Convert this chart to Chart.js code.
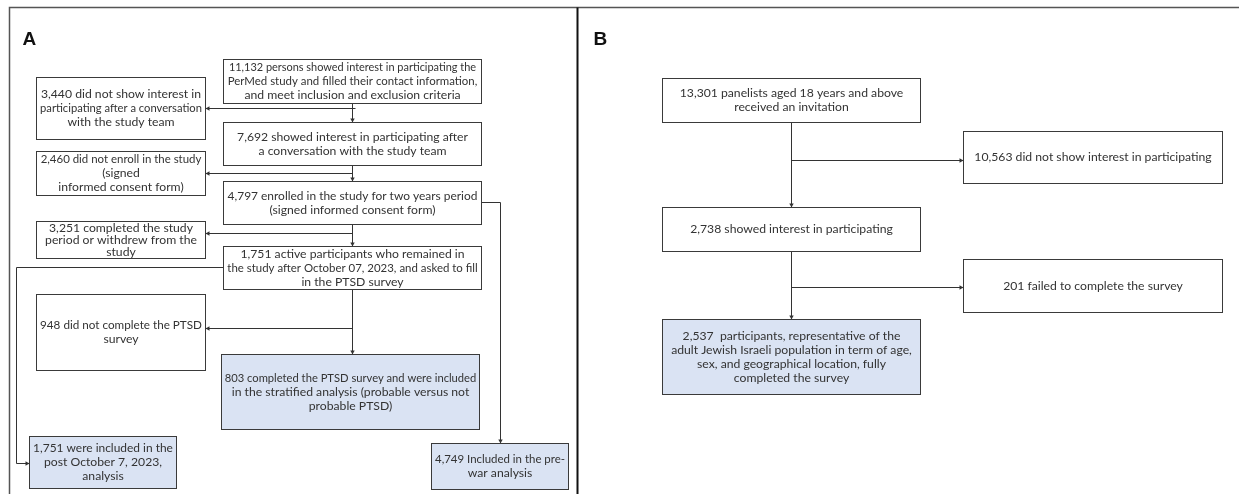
<!DOCTYPE html>
<html>
<head>
<meta charset="utf-8">
<script src="https://cdn.jsdelivr.net/npm/chart.js@4"></script>
<style>
  html, body { margin: 0; padding: 0; background: #fff; }
  canvas { display: block; }
</style>
</head>
<body>
<canvas id="flow" width="1239" height="494"></canvas>
<script>
// participant counts per box (panel A, then panel B)
const countsA = [11132, 3440, 7692, 2460, 4797, 3251, 1751, 948, 803, 1751, 4749];
const countsB = [13301, 10563, 2738, 201, 2537];

// box texts, count is put in front of the first line
const textsA = [
  ["persons showed interest in participating the", "PerMed study and filled their contact information,", "and meet inclusion and exclusion criteria"],
  ["did not show interest in", "participating after a conversation", "with the study team"],
  ["showed interest in participating after", "a conversation with the study team"],
  ["did not enroll in the study", "(signed", "informed consent form)"],
  ["enrolled in the study for two years period", "(signed informed consent form)"],
  ["completed the study", "period or withdrew from the", "study"],
  ["active participants who remained in", "the study after October 07, 2023, and asked to fill", "in the PTSD survey"],
  ["did not complete the PTSD", "survey"],
  ["completed the PTSD survey and were included", "in the stratified analysis (probable versus not", "probable PTSD)"],
  ["were included in the", "post October 7, 2023,", "analysis"],
  ["Included in the pre-", "war analysis"]
];
const textsB = [
  ["panelists aged 18 years and above", "received an invitation"],
  ["did not show interest in participating"],
  ["showed interest in participating"],
  ["failed to complete the survey"],
  [" participants, representative of the", "adult Jewish Israeli population in term of age,", "sex, and geographical location, fully", "completed the survey"]
];
// final (analysed) boxes are shaded
const finalA = [8, 9, 10];
const finalB = [4];
const panelLabels = ["A", "B"];

// layout, in axis units (x0, x1, y0, y1)
const boxesA = [
  [223, 481, 59, 103], [36, 205, 77, 139], [223, 481, 122, 165], [36, 205, 151, 195],
  [223, 481, 181, 224], [36, 205, 221, 258], [223, 481, 246, 289], [36, 205, 294, 370],
  [221, 479, 354, 429], [29, 176, 436, 488], [431, 568, 443, 489]
];
const boxesB = [
  [662, 920, 78, 122], [963, 1222, 131, 183], [662, 920, 207, 251],
  [963, 1222, 259, 312], [662, 920, 319, 394]
];
// connectors: polyline points, arrow at the last point when flagged
const linksA = [
  [[[352, 103], [352, 122]], true], [[[355, 108], [205, 108]], true],
  [[[352, 165], [352, 181]], true], [[[352, 173], [205, 173]], true],
  [[[352, 224], [352, 246]], true], [[[352, 233], [205, 233]], true],
  [[[479, 202], [500, 202], [500, 443]], true],
  [[[223, 267], [16, 267], [16, 463], [29, 463]], true],
  [[[352, 289], [352, 354]], true], [[[352, 328], [205, 328]], true]
];
const linksB = [
  [[[791, 122], [791, 207]], true], [[[791, 160], [963, 160]], true],
  [[[791, 251], [791, 319]], true], [[[791, 287], [963, 287]], true]
];

const fmt = n => n.toLocaleString('en-US');

const flowPlugin = {
  id: 'flow',
  afterDraw(chart) {
    const ctx = chart.ctx;
    const sx = v => Math.round(chart.scales.x.getPixelForValue(v)) + 0.5;
    const sy = v => Math.round(chart.scales.y.getPixelForValue(v)) + 0.5;
    ctx.save();

    // panel frames
    ctx.strokeStyle = '#555';
    ctx.lineWidth = 1.5;
    ctx.beginPath();
    ctx.moveTo(sx(9), sy(494)); ctx.lineTo(sx(9), sy(7)); ctx.lineTo(sx(1239), sy(7));
    ctx.stroke();
    ctx.strokeStyle = '#111';
    ctx.lineWidth = 2;
    ctx.beginPath();
    ctx.moveTo(sx(577), sy(7)); ctx.lineTo(sx(577), sy(494));
    ctx.stroke();

    ctx.fillStyle = '#111';
    ctx.font = 'bold 19px "Liberation Sans", Arial, sans-serif';
    ctx.textBaseline = 'alphabetic';
    ctx.textAlign = 'left';
    ctx.fillText(panelLabels[0], sx(22), sy(44));
    ctx.fillText(panelLabels[1], sx(593), sy(44));

    function drawLinks(links) {
      ctx.strokeStyle = '#333';
      ctx.fillStyle = '#333';
      ctx.lineWidth = 1;
      links.forEach(([pts, arrow]) => {
        ctx.beginPath();
        pts.forEach(([x, y], i) => i ? ctx.lineTo(sx(x), sy(y)) : ctx.moveTo(sx(x), sy(y)));
        ctx.stroke();
        if (arrow) {
          const [x1, y1] = pts[pts.length - 1];
          const [x0, y0] = pts[pts.length - 2];
          const px = sx(x1), py = sy(y1);
          const a = Math.atan2(sy(y1) - sy(y0), sx(x1) - sx(x0));
          ctx.beginPath();
          ctx.moveTo(px, py);
          ctx.lineTo(px - 4 * Math.cos(a) + 2.2 * Math.sin(a), py - 4 * Math.sin(a) - 2.2 * Math.cos(a));
          ctx.lineTo(px - 4 * Math.cos(a) - 2.2 * Math.sin(a), py - 4 * Math.sin(a) + 2.2 * Math.cos(a));
          ctx.closePath();
          ctx.fill();
        }
      });
    }

    function drawBoxes(boxes, counts, texts, finals) {
      boxes.forEach(([x0, x1, y0, y1], i) => {
        const l = sx(x0), r = sx(x1), t = sy(y0), b = sy(y1);
        ctx.fillStyle = finals.includes(i) ? '#dae3f3' : '#fff';
        ctx.fillRect(l, t, r - l, b - t);
        ctx.strokeStyle = '#3a3a3a';
        ctx.lineWidth = 1;
        ctx.strokeRect(l, t, r - l, b - t);

        const lines = texts[i].slice();
        lines[0] = fmt(counts[i]) + ' ' + lines[0];
        const lh = Math.min(14, (b - t - 2) / lines.length);
        const cx = (l + r) / 2;
        const cy = (t + b) / 2;
        ctx.fillStyle = '#333';
        ctx.textAlign = 'center';
        ctx.textBaseline = 'middle';
        lines.forEach((s, k) => {
          let size = 12.2;
          ctx.font = size + 'px Lato, "Open Sans", sans-serif';
          while (ctx.measureText(s).width > r - l - 6 && size > 8) {
            size -= 0.25;
            ctx.font = size + 'px Lato, "Open Sans", sans-serif';
          }
          ctx.fillText(s, cx, cy + (k - (lines.length - 1) / 2) * lh);
        });
      });
    }

    drawLinks(linksA);
    drawLinks(linksB);
    drawBoxes(boxesA, countsA, textsA, finalA);
    drawBoxes(boxesB, countsB, textsB, finalB);
    ctx.restore();
  }
};

new Chart(document.getElementById('flow'), {
  type: 'scatter',
  data: { datasets: [{ data: [], pointRadius: 0 }] },
  options: {
    responsive: false,
    devicePixelRatio: 1,
    animation: false,
    layout: { padding: 0 },
    plugins: { legend: { display: false }, tooltip: { enabled: false } },
    scales: {
      x: { type: 'linear', min: 0, max: 1239, display: false },
      y: { type: 'linear', min: 0, max: 494, reverse: true, display: false }
    }
  },
  plugins: [flowPlugin]
});
</script>
</body>
</html>
